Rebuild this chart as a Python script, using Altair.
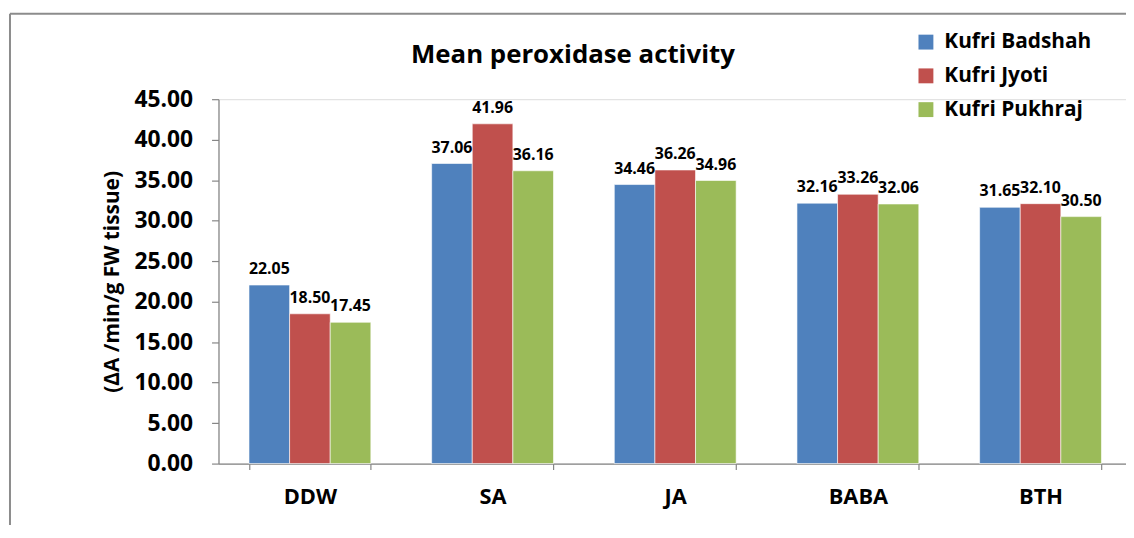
import altair as alt
import pandas as pd

treatments = ["DDW", "SA", "JA", "BABA", "BTH"]
varieties = ["Kufri Badshah", "Kufri Jyoti", "Kufri Pukhraj"]
badshah = [22.05, 37.06, 34.46, 32.16, 31.65]
jyoti = [18.50, 41.96, 36.26, 33.26, 32.10]
pukhraj = [17.45, 36.16, 34.96, 32.06, 30.50]
colors = ["#4F81BD", "#C0504D", "#9BBB59"]
y_ticks = [0, 5, 10, 15, 20, 25, 30, 35, 40, 45]
chart_title = "Mean peroxidase activity"
y_title = "(ΔA /min/g FW tissue)"

rows = []
for series, name in zip([badshah, jyoti, pukhraj], varieties):
    for t, v in zip(treatments, series):
        rows.append({"Treatment": t, "Variety": name, "Value": v})
df = pd.DataFrame(rows)

FONT = "Open Sans"
GRAY = "#868686"

x_enc = alt.X(
    "Treatment:N",
    sort=treatments,
    scale=alt.Scale(paddingInner=0.333, paddingOuter=0.167, range=[0, 920]),
    axis=alt.Axis(
        title=None, labelAngle=0, labelFontSize=22, labelFont=FONT,
        labelFontWeight="bold", labelColor="black", labelPadding=17,
        tickBand="extent", tickSize=6, tickColor=GRAY, domainColor=GRAY,
        domainWidth=1.2, tickWidth=1.2,
    ),
)
xoff = alt.XOffset("Variety:N", sort=varieties,
                   scale=alt.Scale(paddingInner=0, paddingOuter=0))
y_enc = alt.Y(
    "Value:Q",
    scale=alt.Scale(domain=[0, 45], nice=False),
    axis=alt.Axis(
        values=y_ticks, format=".2f", grid=False, title=y_title,
        titleFont=FONT, titleFontSize=21, titleFontWeight="bold",
        titleColor="black", titlePadding=12,
        labelFont=FONT, labelFontSize=23, labelFontWeight="bold",
        labelColor="black", labelPadding=19, tickSize=7, tickColor=GRAY,
        domainColor=GRAY, domainWidth=1.2, tickWidth=1.2,
    ),
)
color_enc = alt.Color(
    "Variety:N", sort=varieties,
    scale=alt.Scale(domain=varieties, range=colors),
    legend=alt.Legend(
        title=None, orient="none", legendX=702, legendY=-68,
        symbolType="square", symbolSize=225, symbolStrokeWidth=0,
        labelFont=FONT, labelFontSize=21, labelFontWeight="bold",
        labelColor="black", labelOffset=8, rowPadding=12, padding=0,
    ),
)

base = alt.Chart(df)
bars = base.mark_bar(stroke="white", strokeWidth=0.6).encode(
    x=x_enc, xOffset=xoff, y=y_enc, color=color_enc
)
labels = base.mark_text(
    dy=-11, baseline="alphabetic", fontSize=16, font=FONT,
    fontWeight="bold", color="black"
).encode(
    x=alt.X("Treatment:N", sort=treatments),
    xOffset=alt.XOffset("Variety:N", sort=varieties),
    y=alt.Y("Value:Q"),
    text=alt.Text("Value:Q", format=".2f"),
)

one = alt.Data(values=[{"t": chart_title}])
title_mark = alt.Chart(one).mark_text(
    fontSize=26, font=FONT, fontWeight="bold", color="black",
    baseline="middle", align="center"
).encode(x=alt.value(357), y=alt.value(-44), text="t:N")

frame_left = alt.Chart(alt.Data(values=[{"a": 1}])).mark_rule(
    color="#8C8C8C", strokeWidth=2
).encode(x=alt.value(-210), y=alt.value(-86), y2=alt.value(445))
frame_top = alt.Chart(alt.Data(values=[{"a": 1}])).mark_rule(
    color="#8C8C8C", strokeWidth=2
).encode(x=alt.value(-210), x2=alt.value(930), y=alt.value(-86))

chart = alt.layer(frame_left, frame_top, bars, labels, title_mark).properties(
    width=914, height=367,
    autosize=alt.AutoSizeParams(type="none"),
    padding={"left": 212, "top": 90, "right": 0, "bottom": 60},
).configure_view(stroke=None).configure(background="white")

chart.save("out.html", embed_options={"renderer": "svg", "actions": False})
